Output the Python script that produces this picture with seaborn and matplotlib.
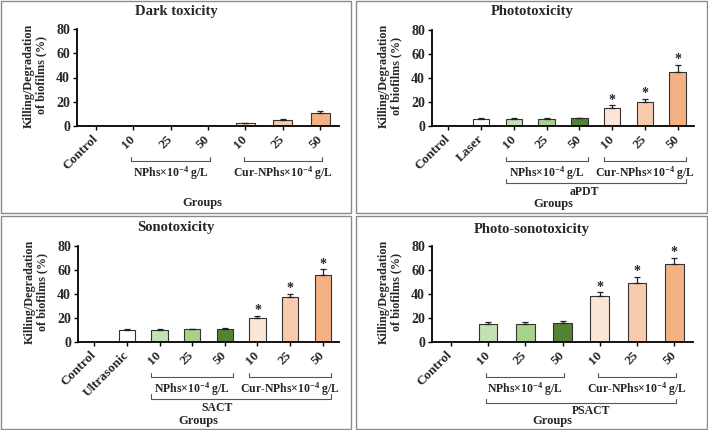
import numpy as np
import pandas as pd
import matplotlib
matplotlib.use("Agg")
import matplotlib.pyplot as plt
from matplotlib.patches import Rectangle
import seaborn as sns

# ---------------- data ----------------
dark_labels = ["Control", "10", "25", "50", "10", "25", "50"]
dark_values = [0.2, 0.3, 0.3, 0.3, 2.2, 5.0, 11.0]
dark_errors = [0.0, 0.1, 0.1, 0.1, 0.3, 0.7, 1.4]
dark_stars = [False, False, False, False, False, False, False]

photo_labels = ["Control", "Laser", "10", "25", "50", "10", "25", "50"]
photo_values = [0.2, 6.1, 6.0, 6.2, 6.3, 15.3, 20.3, 45.3]
photo_errors = [0.0, 0.5, 0.5, 0.5, 0.5, 2.0, 2.5, 5.5]
photo_stars = [False, False, False, False, False, True, True, True]

sono_labels = ["Control", "Ultrasonic", "10", "25", "50", "10", "25", "50"]
sono_values = [0.2, 10.2, 10.0, 10.5, 11.0, 19.9, 37.1, 56.0]
sono_errors = [0.0, 0.5, 0.6, 0.6, 0.6, 1.7, 3.1, 4.7]
sono_stars = [False, False, False, False, False, True, True, True]

psono_labels = ["Control", "10", "25", "50", "10", "25", "50"]
psono_values = [0.2, 14.9, 15.4, 16.0, 38.0, 49.4, 64.6]
psono_errors = [0.0, 1.5, 1.3, 1.6, 3.4, 5.0, 5.7]
psono_stars = [False, False, False, False, True, True, True]

titles = ["Dark toxicity", "Phototoxicity", "Sonotoxicity", "Photo-sonotoxicity"]
nphs_text = r"NPhs×10$^{\mathbf{-4}}$ g/L"
cur_text = r"Cur-NPhs×10$^{\mathbf{-4}}$ g/L"
ylabel_text = "Killing/Degradation\nof biofilms (%)"
yticks = [0, 20, 40, 60, 80]

c_white = "#FFFFFF"
greens = ["#C5E0B4", "#A9D18E", "#548235"]
oranges = ["#FBE5D6", "#F8CBAD", "#F4B183"]
dark_colors = [c_white] + greens + oranges
photo_colors = [c_white, c_white] + greens + oranges

# ---------------- style ----------------
sns.set_theme(style="white")
plt.rcParams["font.family"] = ["Liberation Serif", "DejaVu Serif"]
plt.rcParams["font.weight"] = "bold"
plt.rcParams["mathtext.fontset"] = "custom"
plt.rcParams["mathtext.rm"] = "Liberation Serif:bold"
plt.rcParams["mathtext.bf"] = "Liberation Serif:bold"
plt.rcParams["mathtext.it"] = "Liberation Serif:bold"

W, H = 708, 430
fig = plt.figure(figsize=(W / 100, H / 100), dpi=100)


def fx(px):
    return px / W


def fy(py):
    return 1 - py / H


# panel borders
for (x0, y0, x1, y1) in [(1, 1, 351, 213), (356, 1, 707, 213),
                         (1, 216, 351, 429), (356, 216, 707, 429)]:
    fig.patches.append(Rectangle((fx(x0), fy(y1)), fx(x1 - x0), (y1 - y0) / H,
                                 transform=fig.transFigure, fill=False,
                                 edgecolor="#8a8a8a", linewidth=1.0))

panels = [
    dict(labels=dark_labels, values=dark_values, errors=dark_errors, stars=dark_stars,
         colors=dark_colors, box=(77, 339, 29, 126), center=176, title_y=12,
         nphs=(1, 3), cur=(4, 6), pad=(-0.05, 0.05), outer=None,
         groups_x=2.84, groups_y=-0.79),
    dict(labels=photo_labels, values=photo_values, errors=photo_errors, stars=photo_stars,
         colors=photo_colors, box=(432, 694, 30, 126), center=532, title_y=12,
         nphs=(2, 4), cur=(5, 7), pad=(-0.25, 0.25), outer=("aPDT", 2, 7, 4.14, -0.594, -0.69),
         groups_x=3.19, groups_y=-0.815),
    dict(labels=sono_labels, values=sono_values, errors=sono_errors, stars=sono_stars,
         colors=photo_colors, box=(78, 339, 246, 342), center=176, title_y=228,
         nphs=(2, 4), cur=(5, 7), pad=(-0.25, 0.25), outer=("SACT", 2, 7, 3.76, -0.59, -0.69),
         groups_x=3.18, groups_y=-0.82),
    dict(labels=psono_labels, values=psono_values, errors=psono_errors, stars=psono_stars,
         colors=dark_colors, box=(432, 693, 246, 342), center=532, title_y=229,
         nphs=(1, 3), cur=(4, 6), pad=(-0.05, 0.05), outer=("PSACT", 1, 6, 3.76, -0.635, -0.72),
         groups_x=2.74, groups_y=-0.825),
]

for title, p in zip(titles, panels):
    l, r, t, b = p["box"]
    ax = fig.add_axes([fx(l), fy(b), fx(r - l), (b - t) / H])
    n = len(p["labels"])
    ids = [f"c{i}" for i in range(n)]
    df = pd.DataFrame({"id": ids, "value": p["values"]})
    sns.barplot(data=df, x="id", y="value", hue="id", palette=p["colors"],
                legend=False, width=0.5, edgecolor="#333333", linewidth=0.8,
                saturation=1, ax=ax, zorder=2)
    xs = np.arange(n)
    errs = np.array(p["errors"])
    ax.errorbar(xs, p["values"], yerr=[np.zeros(n), errs], fmt="none",
                ecolor="#222222", elinewidth=0.9, capsize=2.5, capthick=0.9, zorder=3)
    for i in range(n):
        if p["stars"][i]:
            ax.annotate("*", (xs[i], p["values"][i] + errs[i]), xytext=(0, -1),
                        textcoords="offset points", ha="center", va="bottom",
                        fontsize=10, fontweight="bold")
    ax.set_xlim(-0.5, n - 0.5)
    ax.set_ylim(0, 80)
    ax.set_yticks(yticks)
    ax.set_yticklabels([str(v) for v in yticks], fontsize=10, fontweight="bold")
    ax.set_xticks(xs)
    ax.set_xticklabels(p["labels"], rotation=45, ha="right", va="center",
                       rotation_mode="anchor", fontsize=9.5, fontweight="bold")
    ax.set_xlabel("")
    ax.set_ylabel("")
    for s in ["top", "right"]:
        ax.spines[s].set_visible(False)
    for s in ["left", "bottom"]:
        ax.spines[s].set_color("black")
        ax.spines[s].set_linewidth(1.3)
    ax.tick_params(axis="both", direction="out", length=3, width=1, color="black",
                   bottom=True, left=True)
    ax.tick_params(axis="x", pad=5)
    ax.tick_params(axis="y", pad=2)

    tr = ax.get_xaxis_transform()
    a0, a1 = p["pad"]
    # NPhs / Cur brackets
    for (i0, i1), txt in [(p["nphs"], nphs_text), (p["cur"], cur_text)]:
        yb = -0.365
        ax.plot([i0 + a0, i0 + a0, i1 + a1, i1 + a1], [yb + 0.045, yb, yb, yb + 0.045],
                transform=tr, clip_on=False, color="#555555", lw=0.8)
        ax.text((i0 + i1) / 2, -0.49, txt, transform=tr, ha="center", va="center",
                fontsize=8.5, fontweight="bold")
    if p["outer"] is not None:
        name, j0, j1, lx, by, ly = p["outer"]
        ax.plot([j0 + a0, j0 + a0, j1 + a1, j1 + a1], [by + 0.045, by, by, by + 0.045],
                transform=tr, clip_on=False, color="#555555", lw=0.8)
        ax.text(lx, ly, name, transform=tr, ha="center", va="center",
                fontsize=8.5, fontweight="bold")
    ax.text(p["groups_x"], p["groups_y"], "Groups", transform=tr, ha="center",
            va="center", fontsize=9, fontweight="bold")

    # titles and y labels
    fig.text(fx(p["center"]), fy(p["title_y"]), title, ha="center", va="center",
             fontsize=10.5, fontweight="bold")
    fig.text(fx(l - 42), fy((t + b) / 2 - 2), ylabel_text, rotation=90, ha="center",
             va="center", fontsize=8.7, fontweight="bold", linespacing=1.15)

fig.savefig("out.png", dpi=100, facecolor="white")
